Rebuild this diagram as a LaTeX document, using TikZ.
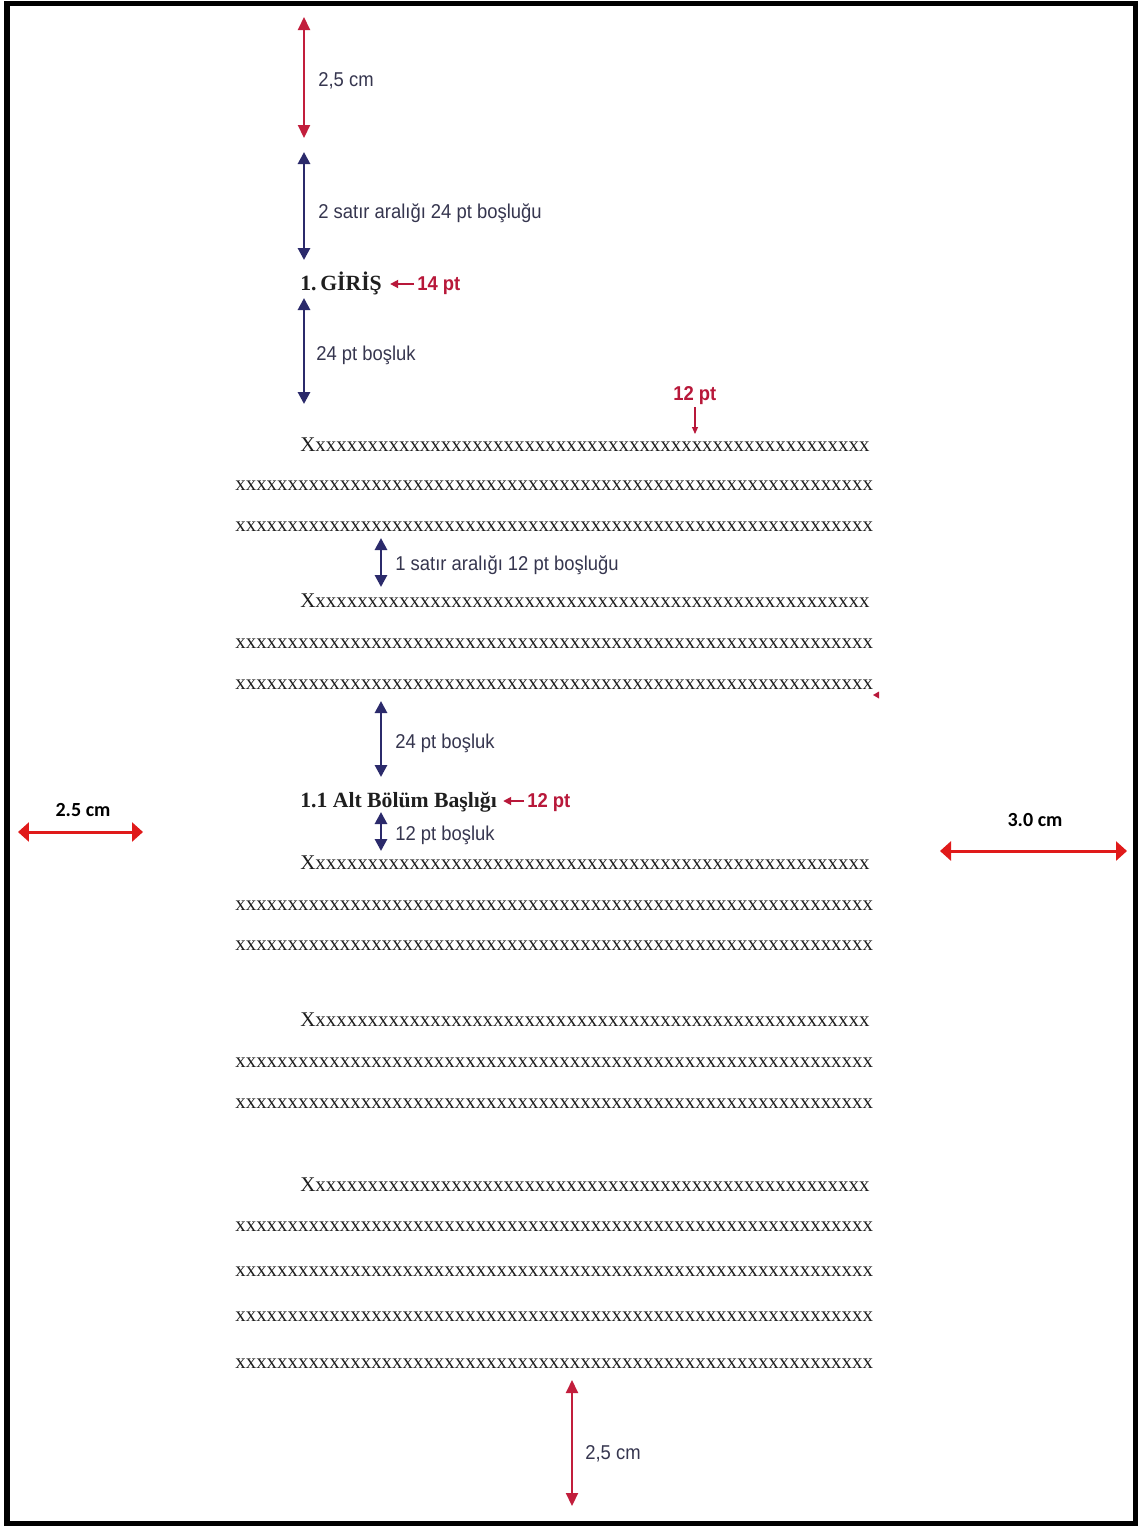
\documentclass[tikz,border=0pt]{standalone}
\usepackage{fontspec}
\setmainfont{Liberation Serif}
\newfontfamily\lblfont[FakeStretch=0.92]{Liberation Sans}
\newfontfamily\cfont{Carlito}
\usetikzlibrary{arrows.meta}
\definecolor{navy}{HTML}{2B2A6B}
\definecolor{lbltext}{HTML}{36364F}
\definecolor{redarr}{HTML}{C21E3C}
\definecolor{redtxt}{HTML}{B8183A}
\definecolor{margred}{HTML}{E01A1A}
\definecolor{bodytext}{HTML}{1E1E1E}
\newcommand\tenx{xxxxxxxxxx}
\newcommand\mylinefull{\tenx\tenx\tenx\tenx\tenx\tenx x}
\newcommand\mylinefirst{X\tenx\tenx\tenx\tenx\tenx xxx}
\begin{document}
\begin{tikzpicture}[x=0.02cm,y=-0.02cm,
  body/.style={anchor=base west,inner sep=0,font=\fontsize{11.9}{14}\selectfont,text=bodytext},
  head/.style={anchor=base west,inner sep=0,font=\fontsize{12.35}{15}\selectfont\bfseries,text=black!88},
  lbl/.style={anchor=base west,inner sep=0,font=\lblfont\fontsize{11.4}{13}\selectfont,text=lbltext},
  redlbl/.style={anchor=base west,inner sep=0,font=\lblfont\bfseries\fontsize{11.4}{13}\selectfont,text=redtxt},
  mlbl/.style={anchor=base,inner sep=0,font=\cfont\bfseries\fontsize{11.4}{13}\selectfont,text=black},
  navyarr/.style={navy,line width=1.6pt,{Triangle[width=0.24cm,length=0.24cm]}-{Triangle[width=0.24cm,length=0.24cm]}},
  redv/.style={redarr,line width=1.2pt,{Triangle[width=0.24cm,length=0.26cm]}-{Triangle[width=0.24cm,length=0.26cm]}},
  marg/.style={margred,line width=1.7pt,{Triangle[width=0.38cm,length=0.22cm]}-{Triangle[width=0.38cm,length=0.22cm]}},
  redsm/.style={redtxt,line width=1pt,-{Triangle[width=0.16cm,length=0.16cm]}},
  redtiny/.style={redtxt,line width=0.6pt,-{Triangle[width=0.12cm,length=0.14cm]}}
]
\useasboundingbox (0,0) rectangle (1138,1526);
\fill[white] (0,0) rectangle (1138,1526);
\draw[line width=0.11cm,black] (7,3.5) rectangle (1135.5,1523.5);

% top margin
\coordinate (tm1) at (304,17);
\coordinate (tm2) at (304,138);
\draw[redv] (tm1) -- (tm2);
\node[lbl] (ltm) at (318,86) {2,5 cm};

% 2 satir
\coordinate (a1) at (304,152);
\coordinate (a2) at (304,260);
\draw[navyarr] (a1) -- (a2);
\node[lbl] (la) at (318,218) {2 satır aralığı 24 pt boşluğu};

% heading 1
\node[head] (giris) at (300,290) {1.\kern-1pt\ GİRİŞ};
\node[redlbl] (n14) at (417,290) {14 pt};
\draw[redsm] ([shift={(-3,-6)}]n14.base west) -- ([shift={(8,-6)}]giris.base east);

% 24 pt bosluk
\coordinate (b1) at (304,298);
\coordinate (b2) at (304,404);
\draw[navyarr] (b1) -- (b2);
\node[lbl] (lb) at (316,360) {24 pt boşluk};

% 12 pt top
\node[redlbl] (n12a) at (673,400) {12 pt};
\coordinate (s1) at (695,407);
\coordinate (s2) at (695,434);
\draw[redtiny] (s1) -- (s2);

% paragraph 1
\node[body] (p11) at (300,451) {\mylinefirst};
\node[body] (p12) at (235,490) {\mylinefull};
\node[body] (p13) at (235,531) {\mylinefull};

% 1 satir
\coordinate (c1) at (381,538);
\coordinate (c2) at (381,587);
\draw[navyarr] (c1) -- (c2);
\node[lbl] (lc) at (395,570) {1 satır aralığı 12 pt boşluğu};

% paragraph 2
\node[body] (p21) at (300,607) {\mylinefirst};
\node[body] (p22) at (235,648) {\mylinefull};
\node[body] (p23) at (235,689) {\mylinefull};
\fill[redtxt] (873,695) -- (879,691.5) -- (879,698.5) -- cycle;

% 24 pt bosluk 2
\coordinate (d1) at (381,701);
\coordinate (d2) at (381,777);
\draw[navyarr] (d1) -- (d2);
\node[lbl] (ld) at (395,748) {24 pt boşluk};

% heading 1.1
\node[head] (alt) at (300,807) {1.1 Alt Bölüm Başlığı};
\node[redlbl] (n12b) at (527,807) {12 pt};
\draw[redsm] ([shift={(-3,-6)}]n12b.base west) -- ([shift={(6,-6)}]alt.base east);

% 12 pt bosluk
\coordinate (e1) at (381,812);
\coordinate (e2) at (381,851);
\draw[navyarr] (e1) -- (e2);
\node[lbl] (le) at (395,840) {12 pt boşluk};

% paragraph 3
\node[body] (p31) at (300,869) {\mylinefirst};
\node[body] (p32) at (235,910) {\mylinefull};
\node[body] (p33) at (235,950) {\mylinefull};

% paragraph 4
\node[body] (p41) at (300,1026) {\mylinefirst};
\node[body] (p42) at (235,1067) {\mylinefull};
\node[body] (p43) at (235,1108) {\mylinefull};

% paragraph 5
\node[body] (p51) at (300,1191) {\mylinefirst};
\node[body] (p52) at (235,1231) {\mylinefull};
\node[body] (p53) at (235,1276) {\mylinefull};
\node[body] (p54) at (235,1321) {\mylinefull};
\node[body] (p55) at (235,1368) {\mylinefull};

% bottom margin
\coordinate (bm1) at (572,1380);
\coordinate (bm2) at (572,1506);
\draw[redv] (bm1) -- (bm2);
\node[lbl] (lbm) at (585,1459) {2,5 cm};

% left margin
\coordinate (lm1) at (18,832);
\coordinate (lm2) at (143,832);
\draw[marg] (lm1) -- (lm2);
\node[mlbl] (llm) at (83,816) {2.5 cm};

% right margin
\coordinate (rm1) at (940,851);
\coordinate (rm2) at (1127,851);
\draw[marg] (rm1) -- (rm2);
\node[mlbl] (lrm) at (1035,826) {3.0 cm};
\end{tikzpicture}
\end{document}
